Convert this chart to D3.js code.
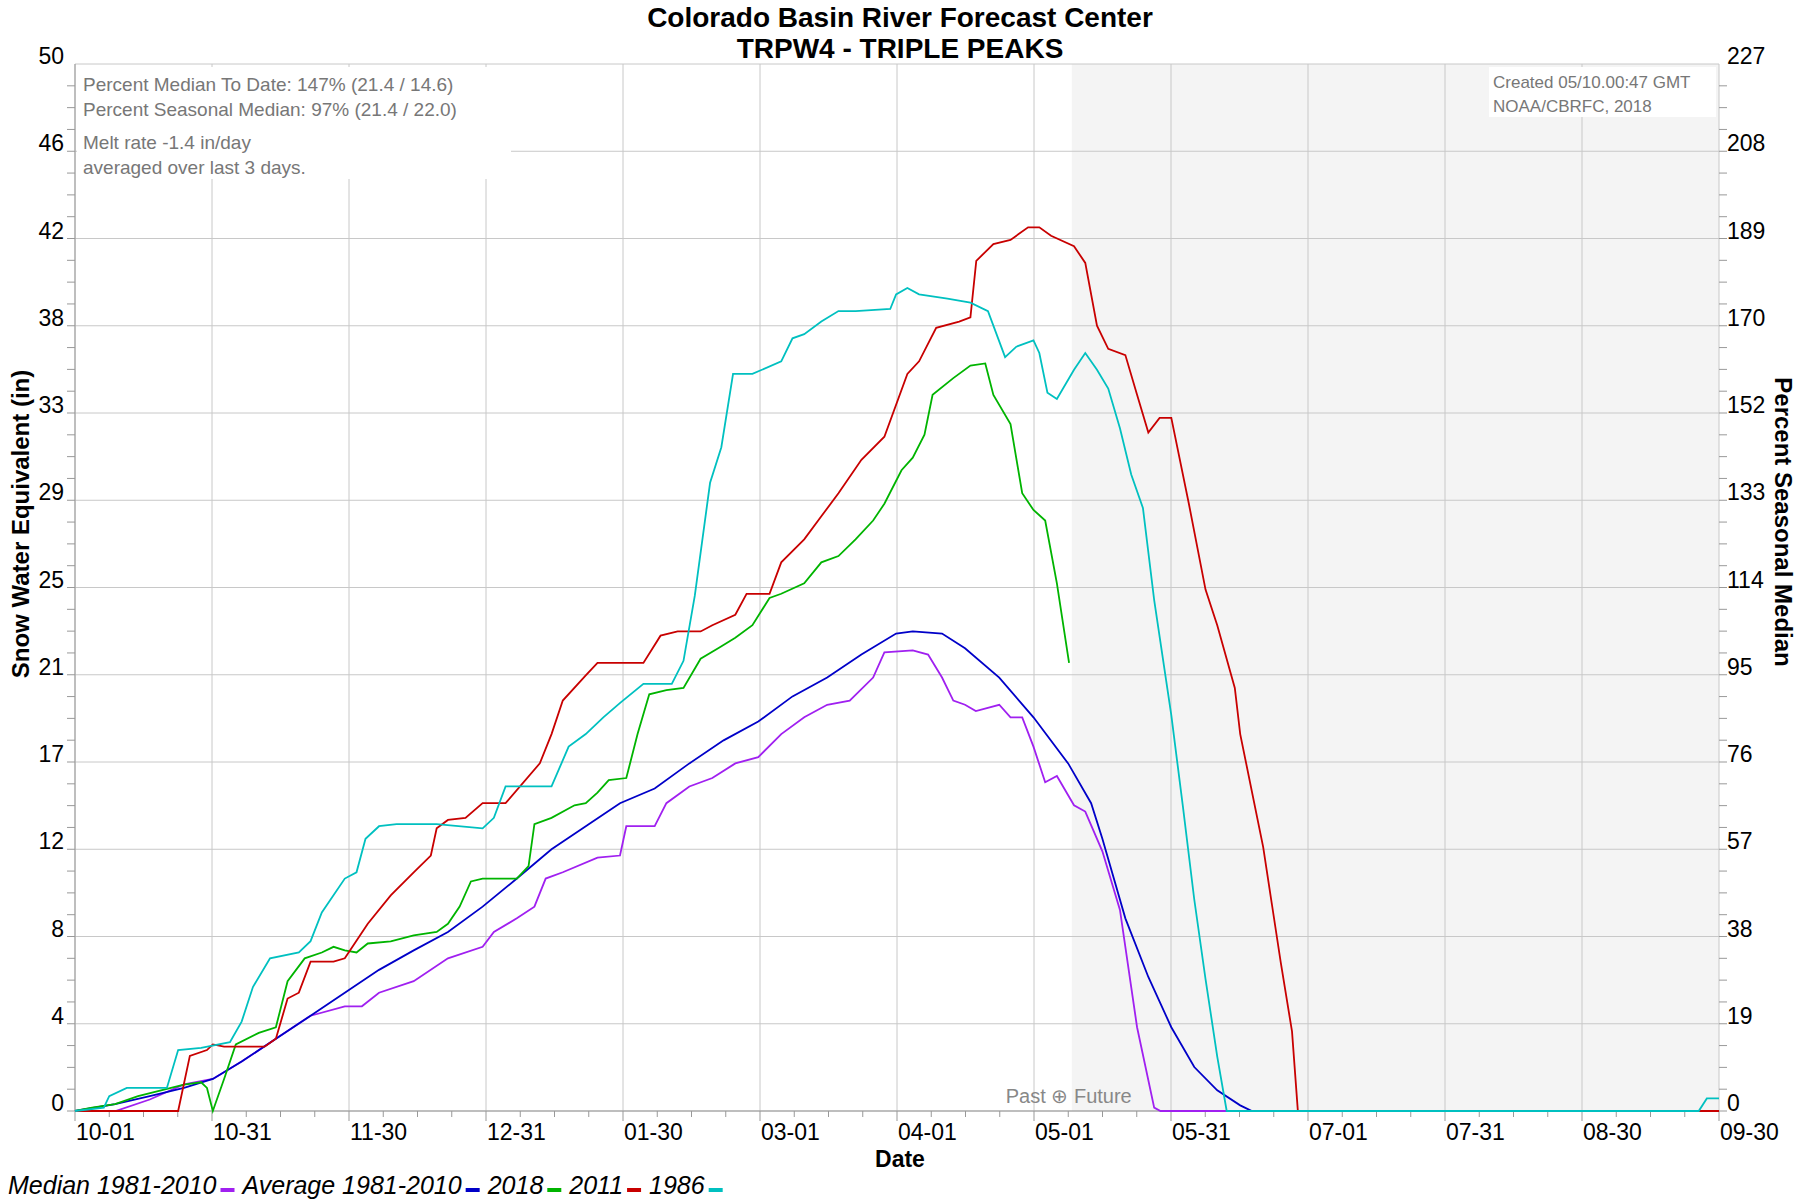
<!DOCTYPE html>
<html><head><meta charset="utf-8">
<script src="https://cdn.jsdelivr.net/npm/d3@7"></script>
<style>body{margin:0;background:#fff}svg{display:block}text{font-family:"Liberation Sans Narrow","Liberation Sans",Arial,sans-serif}</style>
</head><body><svg id="c" width="1800" height="1200"></svg>
<script>
const leftTicks=["0","4","8","12","17","21","25","29","33","38","42","46","50"];
const rightTicks=["0","19","38","57","76","95","114","133","152","170","189","208","227"];
const xTickLabels=["10-01","10-31","11-30","12-31","01-30","03-01","04-01","05-01","05-31","07-01","07-31","08-30","09-30"];
const seriesNames=["Median 1981-2010","Average 1981-2010","2018","2011","1986"];
const seriesColors=["#a020f0","#0000c8","#00b400","#c80000","#00c0c0"];
const median=[[0,0],[9,0],[16.6,0.55],[24.2,1.27],[30.6,1.53],[37,2.36],[44.6,3.45],[52.3,4.55],[59.9,5.0],[63.7,5.0],[67.5,5.65],[75.2,6.2],[82.8,7.29],[90.5,7.84],[93,8.55],[98.1,9.2],[102,9.76],[104.5,11.1],[108.3,11.4],[116,12.1],[121,12.2],[122.4,13.6],[128.7,13.6],[131.3,14.7],[136.4,15.5],[141.5,15.9],[146.6,16.6],[151.7,16.9],[156.8,18.0],[161.9,18.8],[167,19.4],[172,19.6],[177.2,20.7],[179.7,21.9],[186,22.0],[189.4,21.8],[192.5,20.7],[195,19.6],[197.6,19.4],[200,19.1],[205.2,19.4],[207.7,18.8],[210.3,18.8],[212.8,17.4],[215.4,15.7],[218,16.0],[221.8,14.6],[224.3,14.3],[228.1,12.4],[232,9.6],[235.8,4.0],[239.6,0.16],[241,0],[365,0]];
const average=[[0,0],[8.9,0.33],[16.6,0.71],[24.2,1.1],[30.6,1.53],[37,2.36],[44.6,3.45],[52.3,4.55],[59.9,5.65],[67.5,6.74],[75.2,7.67],[82.8,8.55],[90.5,9.76],[98.1,11.1],[105.8,12.5],[113.4,13.6],[121,14.7],[128.7,15.4],[136.4,16.6],[144,17.7],[151.7,18.6],[159.3,19.8],[167,20.7],[174.6,21.8],[182.3,22.8],[186,22.9],[192.5,22.8],[197.6,22.1],[205.2,20.7],[212.8,18.8],[220.5,16.6],[225.6,14.7],[228.1,13.0],[233.2,9.2],[238.3,6.4],[243.4,4.0],[248.5,2.1],[253.6,0.99],[258.7,0.27],[261.3,0],[365,0]];
const y2018=[[0,0],[3.8,0.16],[8.9,0.33],[14,0.71],[19.1,0.99],[24.2,1.26],[28,1.37],[29.3,1.1],[30.6,0],[33.1,1.53],[35.7,3.18],[40.8,3.73],[44.6,4.0],[47.2,6.2],[51,7.29],[54.8,7.57],[57.4,7.84],[59.9,7.67],[62.5,7.57],[65,8.0],[70.1,8.1],[75.2,8.39],[80.3,8.55],[82.8,8.94],[85.4,9.76],[87.9,10.96],[90.5,11.1],[98.1,11.1],[100.7,11.7],[102,13.7],[105.8,14.0],[110.9,14.6],[113.4,14.7],[116,15.2],[118.5,15.8],[122.4,15.9],[124.9,18.0],[127.5,19.9],[131.3,20.1],[135.1,20.2],[138.9,21.6],[142.8,22.1],[146.6,22.6],[150.4,23.2],[154.2,24.5],[156.8,24.7],[161.9,25.2],[165.7,26.2],[169.5,26.5],[173.3,27.3],[177.2,28.2],[179.7,29.0],[183.5,30.6],[186,31.2],[188.6,32.3],[190.4,34.2],[195,35.0],[198.8,35.6],[202.1,35.7],[203.9,34.2],[207.7,32.8],[210.3,29.5],[212.8,28.7],[215.4,28.2],[218,25.2],[220.7,21.4]];
const y2011=[[0,0],[22.9,0],[25.5,2.63],[29.3,2.91],[30.6,3.18],[33.1,3.07],[42.1,3.07],[44.6,3.45],[47.2,5.37],[49.7,5.65],[52.3,7.13],[57.4,7.13],[59.9,7.29],[65,8.94],[70.1,10.3],[75.2,11.4],[79,12.2],[80.3,13.5],[82.8,13.9],[86.7,14.0],[90.5,14.7],[95.6,14.7],[103.2,16.6],[105.8,18.0],[108.3,19.6],[113.4,20.8],[116,21.4],[126.2,21.4],[130,22.7],[133.8,22.9],[138.9,22.9],[141.5,23.2],[146.6,23.7],[149.1,24.7],[154.2,24.7],[156.8,26.2],[161.9,27.3],[165.7,28.4],[169.5,29.5],[174.6,31.1],[179.7,32.2],[184.8,35.2],[187.4,35.8],[191.2,37.4],[196.3,37.7],[198.8,37.9],[200.1,40.6],[203.9,41.4],[207.7,41.6],[211.6,42.2],[214.1,42.2],[216.7,41.8],[221.8,41.3],[224.3,40.5],[226.9,37.5],[229.4,36.4],[233.2,36.1],[235.8,34.2],[238.3,32.4],[240.8,33.1],[243.4,33.1],[247.3,29.0],[251,24.9],[253.6,23.2],[257.5,20.2],[258.7,18.0],[263.8,12.6],[267.7,7.1],[270.2,3.8],[271.5,0],[365,0]];
const y1986=[[0,0],[6.4,0.16],[7.6,0.71],[11.5,1.1],[20.4,1.1],[22.9,2.91],[28,3.01],[34.4,3.29],[37,4.27],[39.5,5.92],[43.3,7.29],[49.7,7.57],[52.3,8.11],[54.8,9.48],[59.9,11.1],[62.5,11.4],[64.5,13.0],[67.5,13.6],[71.4,13.7],[80.3,13.7],[90.5,13.5],[93,14.0],[95.6,15.5],[105.8,15.5],[109.6,17.4],[113.4,18.0],[117.3,18.8],[121.1,19.5],[126.2,20.4],[132.5,20.4],[135.1,21.5],[137.6,24.6],[141,30.0],[143.5,31.7],[146.1,35.2],[150.4,35.2],[156.8,35.8],[159.3,36.9],[161.9,37.1],[165.7,37.7],[169.5,38.2],[173.3,38.2],[181,38.3],[182.3,39.0],[184.8,39.3],[187.4,39.0],[193.7,38.8],[198.8,38.6],[202.7,38.2],[206.5,36.0],[209,36.5],[212.8,36.8],[214.1,36.2],[215.9,34.3],[218,34.0],[221.8,35.4],[224.3,36.2],[226.9,35.4],[229.4,34.5],[232,32.6],[234.5,30.4],[237.1,28.8],[239.6,24.4],[243.4,18.9],[246,14.5],[248.5,10.1],[251,6.3],[253.6,2.6],[255.7,0],[360.5,0],[362.3,0.6],[365,0.6]];
const allSeries=[median,average,y2018,y2011,y1986];
const todayDay=221.3;

const svg=d3.select("#c");
const L=75,R=1719,T=64,B=1111;
const x=d3.scaleLinear().domain([0,365]).range([L,R]);
const y=d3.scaleLinear().domain([0,50]).range([B,T]);
const idx=d3.scaleLinear().domain([0,12]).range([B,T]);
const xi=d3.scaleLinear().domain([0,12]).range([L,R]);
const SF="'Liberation Sans',Arial";

svg.append("rect").attr("x",x(todayDay)).attr("y",T).attr("width",R-x(todayDay)).attr("height",B-T).attr("fill","#f4f4f4");
for(let i=0;i<=12;i++){
  svg.append("line").attr("x1",L).attr("x2",R).attr("y1",idx(i)).attr("y2",idx(i)).attr("stroke","#c8c8c8");
  svg.append("line").attr("x1",xi(i)).attr("x2",xi(i)).attr("y1",T).attr("y2",B).attr("stroke","#c8c8c8");
}
for(let i=0;i<48;i++){const yy=d3.scaleLinear().domain([0,48]).range([B,T])(i);
  svg.append("line").attr("x1",L-8).attr("x2",L).attr("y1",yy).attr("y2",yy).attr("stroke","#999");
  svg.append("line").attr("x1",R).attr("x2",R+8).attr("y1",yy).attr("y2",yy).attr("stroke","#999");}
for(let i=0;i<=48;i++){const xx=d3.scaleLinear().domain([0,48]).range([L,R])(i);
  svg.append("line").attr("x1",xx).attr("x2",xx).attr("y1",B).attr("y2",B+(i%4==0?10:6)).attr("stroke","#999");}
svg.append("line").attr("x1",L).attr("x2",L).attr("y1",T).attr("y2",B).attr("stroke","#999");
svg.append("line").attr("x1",L).attr("x2",R).attr("y1",B).attr("y2",B).attr("stroke","#999");
leftTicks.forEach((t,i)=>svg.append("text").attr("x",64).attr("y",idx(i)).attr("text-anchor","end").attr("font-size",23).text(t));
rightTicks.forEach((t,i)=>svg.append("text").attr("x",1727).attr("y",idx(i)).attr("text-anchor","start").attr("font-size",23).text(t));
xTickLabels.forEach((t,i)=>svg.append("text").attr("x",xi(i)+1).attr("y",1140).attr("font-size",23).text(t));
svg.append("rect").attr("x",77).attr("y",67).attr("width",434).attr("height",112).attr("fill","#fff");
svg.append("rect").attr("x",1489).attr("y",67).attr("width",227).attr("height",50).attr("fill","#fff");
const info=[["Percent Median To Date: 147% (21.4 / 14.6)",91],["Percent Seasonal Median: 97% (21.4 / 22.0)",116],["Melt rate -1.4 in/day",149],["averaged over last 3 days.",174]];
info.forEach(d=>svg.append("text").attr("x",83).attr("y",d[1]).attr("font-size",19).attr("fill","#777").style("font-family",SF).text(d[0]));
[["Created 05/10.00:47 GMT",88],["NOAA/CBRFC, 2018",112]].forEach(d=>svg.append("text").attr("x",1493).attr("y",d[1]).attr("font-size",17).attr("fill","#777").style("font-family",SF).text(d[0]));
svg.append("text").attr("x",x(todayDay)-3).attr("y",1103).attr("text-anchor","middle").attr("font-size",20).attr("fill","#888").style("font-family",SF).text("Past \u2295 Future");
const line=d3.line().x(d=>x(d[0])).y(d=>y(d[1]));
allSeries.forEach((s,i)=>svg.append("path").datum(s).attr("d",line).attr("fill","none").attr("stroke",seriesColors[i]).attr("stroke-width",1.8));
svg.append("text").attr("x",900).attr("y",27).attr("text-anchor","middle").attr("font-size",28).attr("font-weight","bold").style("font-family",SF).text("Colorado Basin River Forecast Center");
svg.append("text").attr("x",900).attr("y",58).attr("text-anchor","middle").attr("font-size",28).attr("font-weight","bold").style("font-family",SF).text("TRPW4 - TRIPLE PEAKS");
svg.append("text").attr("x",900).attr("y",1167).attr("text-anchor","middle").attr("font-size",23).attr("font-weight","bold").style("font-family",SF).text("Date");
svg.append("text").attr("transform","translate(29,524) rotate(-90)").attr("text-anchor","middle").attr("font-size",24).attr("font-weight","bold").style("font-family",SF).text("Snow Water Equivalent (in)");
svg.append("text").attr("transform","translate(1775,522) rotate(90)").attr("text-anchor","middle").attr("font-size",24).attr("font-weight","bold").style("font-family",SF).text("Percent Seasonal Median");
let lx=8;
seriesNames.forEach((n,i)=>{const t=svg.append("text").attr("x",lx).attr("y",1194).attr("font-size",25).attr("font-style","italic").text(n);
  const w=t.node().getComputedTextLength(); lx+=w+4;
  svg.append("rect").attr("x",lx).attr("y",1188).attr("width",14).attr("height",4).attr("fill",seriesColors[i]); lx+=22;});
</script></body></html>
